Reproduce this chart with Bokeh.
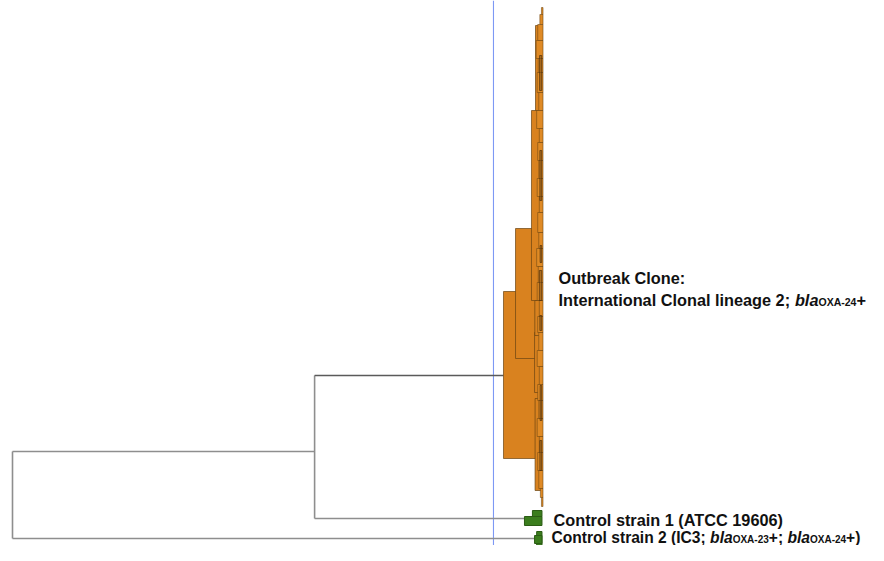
from bokeh.plotting import figure
from bokeh.models import Range1d, ColumnDataSource
from bokeh.core.properties import value
from bokeh.embed import file_html
from bokeh.resources import INLINE

# ---------------- data ----------------
# distance scale (% dissimilarity); leaves ordered by row position
SCALE = 5.3          # px per % distance
TIP_PX = 542         # x pixel of the leaves (distance 0)

# grey backbone nodes of the dendrogram
node_names = ["root", "node_A"]
node_dist = [100.0, 43.0]
node_row_upper = [451, 375]
node_row_lower = [538, 518]
child_upper_dist = [43.0, 7.36]
child_lower_dist = [1.3, 3.4]

# orange outbreak clone: clades (distance, first row, last row)
clade_dist = [7.36, 5.09, 2.08, 1.5, 1.4, 1.32, 1.45]
clade_top = [291, 228, 110, 332, 398, 25, 300]
clade_bot = [458, 358, 300, 392, 490, 110, 335]

# fine sub-clades near the leaves
sub_dist = [0.2, 0.5, 0.9, 1.2, 0.8, 1.0, 0.7, 1.1, 0.6, 0.9, 0.7, 1.0, 0.6, 0.9,
            0.7, 1.1, 0.8, 1.0, 0.6, 0.9, 0.7, 1.0, 0.6, 0.9, 0.7, 1.0, 0.6, 0.9,
            0.7, 0.4, 0.2]
sub_top = [7, 14, 24, 40, 58, 72, 92, 110, 128, 142, 160, 178, 196, 212,
           232, 248, 266, 282, 300, 316, 332, 350, 366, 384, 400, 418, 436, 452,
           470, 488, 497]
sub_bot = [14, 24, 40, 58, 72, 92, 110, 128, 142, 160, 178, 196, 212, 232,
           248, 266, 282, 300, 316, 332, 350, 366, 384, 400, 418, 436, 452, 470,
           488, 497, 506]

# dense dark streaks (very close leaves)
streak_dist = [0.55, 0.5, 0.45, 0.6, 0.5, 0.45, 0.5]
streak_top = [55, 150, 245, 270, 315, 385, 440]
streak_bot = [90, 200, 262, 300, 330, 420, 470]

# control strains (green)
ctrl_dist = [3.4, 1.9, 1.1, 1.5]
ctrl_top = [516, 510, 531, 535]
ctrl_bot = [525, 516, 545, 543]

cutoff_dist = 9.25

# ---------------- figure ----------------
W, H = 868, 545
p = figure(width=W, height=H, output_backend="svg", toolbar_location=None,
           x_range=Range1d(TIP_PX / SCALE, (TIP_PX - W) / SCALE),
           y_range=Range1d(H, 0),
           min_border=0, outline_line_color=None)
p.axis.visible = False
p.grid.visible = False
p.background_fill_color = "white"
p.border_fill_color = "white"

def px(x):
    return (TIP_PX - x) / SCALE

# cutoff line
p.segment(x0=[cutoff_dist], y0=[0], x1=[cutoff_dist], y1=[H],
          line_color="#7d98f4", line_width=1.1)

# backbone segments
p.segment(x0=node_dist, y0=node_row_upper, x1=node_dist, y1=node_row_lower,
          line_color="#8e8e8e", line_width=1.6)
p.segment(x0=node_dist, y0=node_row_upper, x1=child_upper_dist, y1=node_row_upper,
          line_color=["#8e8e8e", "#5a5a5a"], line_width=1.6)
p.segment(x0=node_dist, y0=node_row_lower, x1=child_lower_dist, y1=node_row_lower,
          line_color="#8e8e8e", line_width=1.6)

orange = "#D9821F"
edge = "#6b4512"
src = ColumnDataSource(dict(d=clade_dist, t=clade_top, b=clade_bot, r=[0]*len(clade_dist)))
p.quad(left="d", right="r", top="t", bottom="b", source=src, fill_color=orange,
       line_color=edge, line_alpha=0.7, line_width=1)
src2 = ColumnDataSource(dict(d=sub_dist, t=sub_top, b=sub_bot, r=[-0.1]*len(sub_dist)))
p.quad(left="d", right="r", top="t", bottom="b", source=src2, fill_color="#DF8A25",
       line_color=edge, line_alpha=0.55, line_width=1)
src3 = ColumnDataSource(dict(d=streak_dist, t=streak_top, b=streak_bot, r=[0.15]*len(streak_dist)))
p.quad(left="d", right="r", top="t", bottom="b", source=src3, fill_color="#8a5a1a",
       fill_alpha=0.6, line_color="#3d2508", line_alpha=0.6, line_width=1)

src4 = ColumnDataSource(dict(d=ctrl_dist, t=ctrl_top, b=ctrl_bot, r=[0.1]*len(ctrl_dist)))
p.quad(left="d", right="r", top="t", bottom="b", source=src4, fill_color="#3b7d1d",
       line_color="#2b5c14", line_width=1)

# ---------------- labels ----------------
# advance widths (per 1000 em) of Liberation Sans Bold for placing text pieces
ADV = {" ": 278, ";": 333, ":": 333, "(": 333, ")": 333, "+": 584, "-": 333,
       "a": 556, "b": 611, "c": 556, "e": 556, "g": 611, "i": 278, "k": 556,
       "l": 278, "n": 611, "o": 611, "r": 389, "s": 556, "t": 333, "u": 611,
       "A": 722, "C": 722, "I": 278, "O": 778, "T": 611, "X": 667}
def width(s, size):
    return sum(ADV.get(ch, 556) for ch in s) * size / 1000.0

FONT = value("Liberation Sans")
B1, S1 = 16.3, 10.5
B2, S2 = 15.6, 10.0
lines = [
    (558, 277, [("Outbreak Clone:", B1, "bold")]),
    (558, 299, [("International Clonal lineage 2; ", B1, "bold"), ("bla", B1, "bold italic"),
                ("OXA-24", S1, "bold"), ("+", B1, "bold")]),
    (553, 519, [("Control strain 1 (ATCC 19606)", B1, "bold")]),
    (551, 537, [("Control strain 2 (IC3; ", B2, "bold"), ("bla", B2, "bold italic"),
                ("OXA-23", S2, "bold"), ("+; ", B2, "bold"), ("bla", B2, "bold italic"),
                ("OXA-24", S2, "bold"), ("+)", B2, "bold")]),
]
for x_start, mid, parts in lines:
    xx = x_start
    big = parts[0][1]
    for txt, size, style in parts:
        yy = mid + (0.716 * (big - size)) / 2.0
        p.text(x=[px(xx)], y=[yy], text=[txt], text_font=FONT,
               text_font_size=f"{size}px", text_font_style=style, text_color="#111111",
               text_baseline="middle", text_align="left")
        xx += width(txt, size)

open("out.html", "w").write(file_html(p, INLINE))
